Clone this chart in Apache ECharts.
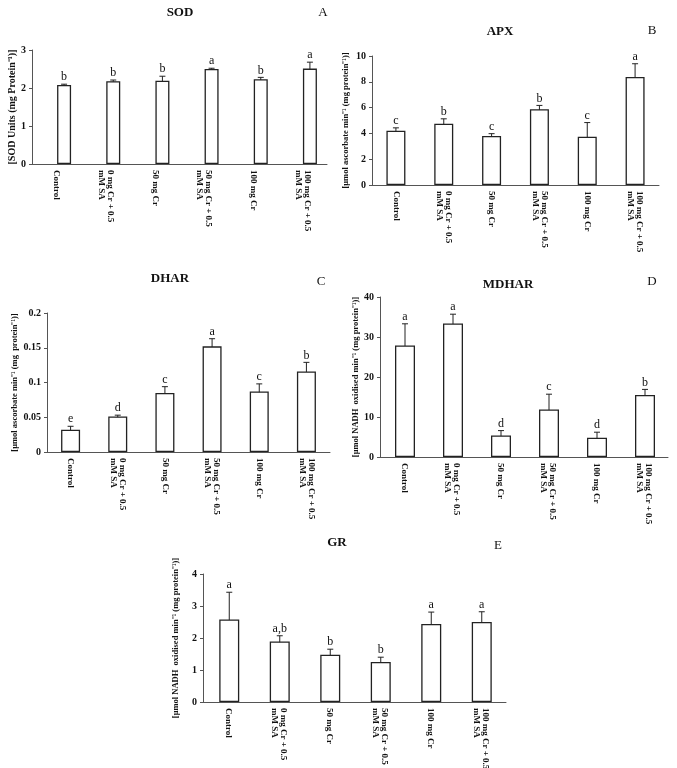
<!DOCTYPE html>
<html><head><meta charset="utf-8">
<script src="https://cdn.jsdelivr.net/npm/echarts@6/dist/echarts.min.js"></script>
<style>html,body{margin:0;padding:0;background:#fff}#c{width:677px;height:768px}</style>
</head><body><div id="c"></div>
<script>
// ---------- data ----------
const categories = ['Control', '0 mg Cr + 0.5\nmM SA', '50 mg Cr', '50 mg Cr + 0.5\nmM SA', '100 mg Cr', '100 mg Cr + 0.5\nmM SA'];

const sodValues = [2.08, 2.18, 2.19, 2.50, 2.23, 2.51];
const sodErrors = [0.02, 0.03, 0.12, 0.02, 0.05, 0.17];
const sodLetters = ['b', 'b', 'b', 'a', 'b', 'a'];
const sodAxis = { min: 0, max: 3, interval: 1 };

const apxValues = [4.21, 4.75, 3.80, 5.87, 3.74, 8.38];
const apxErrors = [0.22, 0.38, 0.18, 0.30, 1.10, 1.02];
const apxLetters = ['c', 'b', 'c', 'b', 'c', 'a'];
const apxAxis = { min: 0, max: 10, interval: 2 };

const dharValues = [0.032, 0.051, 0.085, 0.152, 0.087, 0.116];
const dharErrors = [0.005, 0.002, 0.009, 0.011, 0.011, 0.013];
const dharLetters = ['e', 'd', 'c', 'a', 'c', 'b'];
const dharAxis = { min: 0, max: 0.2, interval: 0.05 };

const mdharValues = [27.9, 33.4, 5.4, 11.9, 4.8, 15.5];
const mdharErrors = [5.4, 2.3, 1.2, 3.8, 1.4, 1.4];
const mdharLetters = ['a', 'a', 'd', 'c', 'd', 'b'];
const mdharAxis = { min: 0, max: 40, interval: 10 };

const grValues = [2.58, 1.89, 1.48, 1.25, 2.44, 2.50];
const grErrors = [0.85, 0.18, 0.17, 0.15, 0.37, 0.32];
const grLetters = ['a', 'a,b', 'b', 'b', 'a', 'a'];
const grAxis = { min: 0, max: 4, interval: 1 };

const titles = ['SOD', 'APX', 'DHAR', 'MDHAR', 'GR'];
const panelTags = ['A', 'B', 'C', 'D', 'E'];
const yNames = [
  '[SOD Units (mg Protein\u207B\u00B9)]',
  '[\u03BCmol ascorbate min\u207B\u00B9 (mg protein\u207B\u00B9)]',
  '[\u03BCmol ascorbate min\u207B\u00B9 (mg  protein\u207B\u00B9)]',
  '[\u03BCmol NADH  oxidised min\u207B\u00B9 (mg protein\u207B\u00B9)]',
  '[\u03BCmol NADH  oxidised min\u207B\u00B9 (mg protein\u207B\u00B9)]'
];

// ---------- layout (positions / styles only) ----------
const layouts = [
  { frame: { left: 32, top: 50, width: 295, height: 114 }, barsLeft: 39.5, barWidth: 14, nameGap: 15, nameSize: 10, title: [180, 13], tag: [323, 13] },
  { frame: { left: 372, top: 56, width: 287, height: 129 }, barsLeft: 372, barWidth: 19, nameGap: 22, nameSize: 8.5, title: [500, 32], tag: [652, 31] },
  { frame: { left: 47, top: 313, width: 283, height: 139 }, barsLeft: 47, barWidth: 19, nameGap: 28, nameSize: 8.5, title: [170, 279], tag: [321, 282] },
  { frame: { left: 380, top: 297, width: 288, height: 160 }, barsLeft: 381, barWidth: 20, nameGap: 19, nameSize: 8.5, title: [508, 285], tag: [652, 282] },
  { frame: { left: 203, top: 574, width: 303, height: 128 }, barsLeft: 204, barWidth: 20, nameGap: 23, nameSize: 8.5, title: [337, 543], tag: [498, 546] }
];

const panelData = [
  [sodValues, sodErrors, sodLetters, sodAxis],
  [apxValues, apxErrors, apxLetters, apxAxis],
  [dharValues, dharErrors, dharLetters, dharAxis],
  [mdharValues, mdharErrors, mdharLetters, mdharAxis],
  [grValues, grErrors, grLetters, grAxis]
];

const FONT = 'Liberation Serif';
const AXIS_COLOR = '#555';
const grid = [], xAxis = [], yAxis = [], series = [], graphic = [];

panelData.forEach(function (pd, p) {
  const values = pd[0], errors = pd[1], letters = pd[2], ax = pd[3];
  const L = layouts[p];
  const fi = grid.length;
  grid.push({ left: L.frame.left, top: L.frame.top, width: L.frame.width, height: L.frame.height, containLabel: false, outerBoundsMode: 'none' });
  grid.push({ left: L.barsLeft, top: L.frame.top, width: L.frame.width, height: L.frame.height, containLabel: false, outerBoundsMode: 'none' });
  const bi = fi + 1;
  // frame axes (visible)
  xAxis.push({
    type: 'category', gridIndex: fi, data: categories,
    axisLine: { lineStyle: { color: AXIS_COLOR, width: 1 } },
    axisTick: { show: false },
    axisLabel: { rotate: -90, interval: 0, margin: 6, fontFamily: FONT, fontWeight: 'bold', fontSize: 9, color: '#111', lineHeight: 9 }
  });
  yAxis.push({
    type: 'value', gridIndex: fi, min: ax.min, max: ax.max, interval: ax.interval,
    splitLine: { show: false },
    axisLine: { show: true, lineStyle: { color: AXIS_COLOR, width: 1 } },
    axisTick: { show: true, length: 3, lineStyle: { color: AXIS_COLOR } },
    axisLabel: { margin: 6, fontFamily: FONT, fontWeight: 'bold', fontSize: 10, color: '#111' },
    name: yNames[p], nameLocation: 'middle', nameGap: L.nameGap, nameRotate: 90,
    nameTextStyle: { fontFamily: FONT, fontWeight: 'bold', fontSize: L.nameSize, color: '#111' }
  });
  // bar axes (hidden, same scale)
  xAxis.push({ type: 'category', gridIndex: bi, data: categories, show: false });
  yAxis.push({ type: 'value', gridIndex: bi, min: ax.min, max: ax.max, interval: ax.interval, show: false });

  series.push({
    type: 'bar', xAxisIndex: bi, yAxisIndex: bi, data: values, barWidth: L.barWidth,
    itemStyle: { color: '#fff', borderColor: '#222', borderWidth: 1.3 },
    silent: true, animation: false
  });
  series.push({
    type: 'custom', xAxisIndex: bi, yAxisIndex: bi, animation: false, silent: true,
    data: values.map(function (v, i) { return [i, v, errors[i], letters[i]]; }),
    renderItem: function (params, api) {
      const i = api.value(0), v = api.value(1), e = api.value(2);
      const d = params.dataIndex;
      const top = api.coord([i, v + e]);
      const bot = api.coord([i, v - e]);
      const cap = 3;
      const st = { stroke: '#222', lineWidth: 1 };
      return {
        type: 'group', children: [
          { type: 'line', shape: { x1: top[0], y1: top[1], x2: bot[0], y2: bot[1] }, style: st },
          { type: 'line', shape: { x1: top[0] - cap, y1: top[1], x2: top[0] + cap, y2: top[1] }, style: st },
          { type: 'line', shape: { x1: bot[0] - cap, y1: bot[1], x2: bot[0] + cap, y2: bot[1] }, style: st },
          { type: 'text', style: { text: letters[d], x: top[0], y: top[1] - 1, textAlign: 'center', textVerticalAlign: 'bottom', fontFamily: FONT, fontSize: 12, fill: '#111' } }
        ]
      };
    }
  });

  graphic.push({ type: 'text', x: L.title[0], y: L.title[1], style: { text: titles[p], textAlign: 'center', textVerticalAlign: 'middle', fontFamily: FONT, fontWeight: 'bold', fontSize: 13, fill: '#111' } });
  graphic.push({ type: 'text', x: L.tag[0], y: L.tag[1], style: { text: panelTags[p], textAlign: 'center', textVerticalAlign: 'middle', fontFamily: FONT, fontSize: 13, fill: '#111' } });
});

const chart = echarts.init(document.getElementById('c'), null, { renderer: 'canvas' });
chart.setOption({ backgroundColor: '#fff', animation: false, grid: grid, xAxis: xAxis, yAxis: yAxis, series: series, graphic: graphic });
</script></body></html>
